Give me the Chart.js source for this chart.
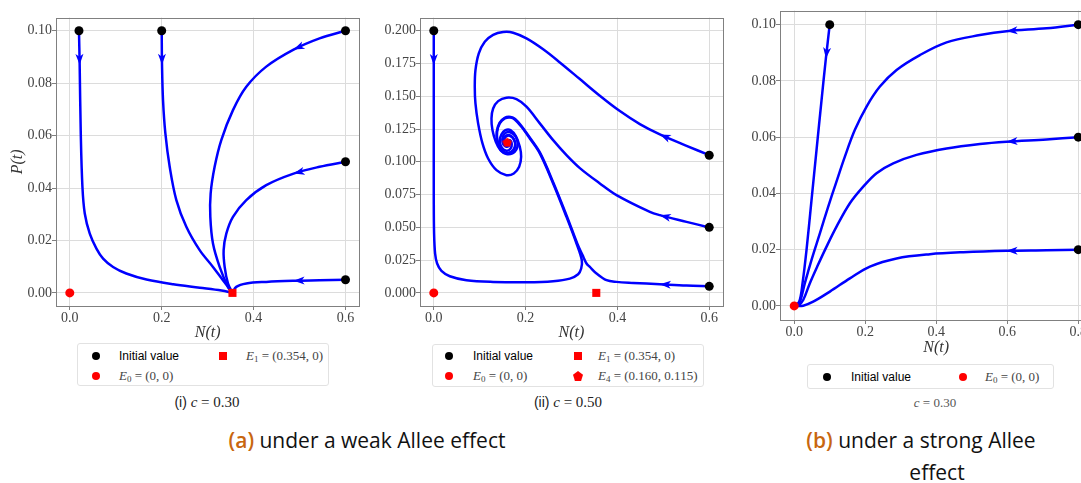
<!DOCTYPE html>
<html>
<head>
<meta charset="utf-8">
<script src="https://cdn.jsdelivr.net/npm/chart.js@4.4.1/dist/chart.umd.min.js"></script>
<style>
  html, body { margin: 0; padding: 0; background: #fff; }
  body { width: 1081px; height: 483px; overflow: hidden; position: relative; }
  canvas { position: absolute; top: 0; }
  #cI { left: 0; }
  #cII { left: 365px; }
  #cB { left: 730px; }
  .lg { position: absolute; border: 1px solid #e2e2e2; border-radius: 3px; box-sizing: border-box; background: #fff; }
  .mk { position: absolute; width: 8px; height: 8px; margin: -4px 0 0 -4px; }
  .dot { border-radius: 50%; }
  .pent { clip-path: polygon(50% 0, 100% 38%, 81% 100%, 19% 100%, 0 38%); width: 10px; height: 10px; margin: -5px 0 0 -5px; }
  .tx { position: absolute; transform: translateY(-50%); white-space: nowrap; }
  .sans { font: 12px 'Liberation Sans', Arial, sans-serif; color: #000; }
  .math { font: 13px 'Liberation Serif', serif; color: #444; }
  .math sub { font-size: 9px; vertical-align: -2px; line-height: 0; }
  .cap { position: absolute; transform: translate(-50%, -50%); white-space: nowrap; font: 15px 'Liberation Serif', serif; color: #222; }
  .cap .s { font-family: 'Liberation Sans', Arial, sans-serif; font-size: 14px; }
  .big { position: absolute; white-space: nowrap; font: 21px 'Open Sans', sans-serif; color: #111; transform: translate(-50%, -50%); }
  .big b { color: #c8660f; font-weight: 600; }
</style>
</head>
<body>
<canvas id="cI" width="365" height="345"></canvas>
<canvas id="cII" width="365" height="345"></canvas>
<canvas id="cB" width="370" height="360"></canvas>

<!-- legends -->
<div class="lg" style="left:77px; top:343px; width:252px; height:43px;">
  <div class="mk dot" style="left:18px; top:12px; background:#000;"></div>
  <div class="tx sans" style="left:41px; top:12px;">Initial value</div>
  <div class="mk" style="left:145px; top:12px; background:#f00;"></div>
  <div class="tx math" style="left:168px; top:12px;"><i>E</i><sub>1</sub> = (0.354, 0)</div>
  <div class="mk dot" style="left:18px; top:32px; background:#f00;"></div>
  <div class="tx math" style="left:41px; top:32px;"><i>E</i><sub>0</sub> = (0, 0)</div>
</div>
<div class="lg" style="left:432px; top:344px; width:272px; height:43px;">
  <div class="mk dot" style="left:16px; top:11px; background:#000;"></div>
  <div class="tx sans" style="left:40px; top:11px;">Initial value</div>
  <div class="mk" style="left:145px; top:11px; background:#f00;"></div>
  <div class="tx math" style="left:165px; top:11px;"><i>E</i><sub>1</sub> = (0.354, 0)</div>
  <div class="mk dot" style="left:16px; top:31px; background:#f00;"></div>
  <div class="tx math" style="left:40px; top:31px;"><i>E</i><sub>0</sub> = (0, 0)</div>
  <div class="mk pent" style="left:145px; top:31px; background:#f00;"></div>
  <div class="tx math" style="left:165px; top:31px;"><i>E</i><sub>4</sub> = (0.160, 0.115)</div>
</div>
<div class="lg" style="left:807px; top:364px; width:247px; height:25px;">
  <div class="mk dot" style="left:19px; top:12px; background:#000;"></div>
  <div class="tx sans" style="left:43px; top:12px;">Initial value</div>
  <div class="mk dot" style="left:155px; top:12px; background:#f00;"></div>
  <div class="tx math" style="left:177px; top:12px;"><i>E</i><sub>0</sub> = (0, 0)</div>
</div>

<!-- captions -->
<div class="cap" style="left:207px; top:402px;"><span class="s">(i)</span> <i>c</i> = 0.30</div>
<div class="cap" style="left:568px; top:402px;"><span class="s">(ii)</span> <i>c</i> = 0.50</div>
<div class="cap" style="left:935px; top:403px; font-size:13px; color:#555;"><i>c</i> = 0.30</div>
<div class="big" style="left:367px; top:440px;"><b>(a)</b> under a weak Allee effect</div>
<div class="big" style="left:921px; top:440px;"><b>(b)</b> under a strong Allee</div>
<div class="big" style="left:937px; top:472px;">effect</div>

<script>
// tick values
const xTicksI = [0, 0.2, 0.4, 0.6];
const yTicksI = [0, 0.02, 0.04, 0.06, 0.08, 0.10];
const xTicksII = [0, 0.2, 0.4, 0.6];
const yTicksII = [0, 0.025, 0.05, 0.075, 0.1, 0.125, 0.15, 0.175, 0.2];
const xTicksB = [0, 0.2, 0.4, 0.6, 0.8];
const yTicksB = [0, 0.02, 0.04, 0.06, 0.08, 0.10];

// initial values and equilibria
const initI = [[0.02, 0.1], [0.2, 0.1], [0.6, 0.1], [0.6, 0.05], [0.6, 0.005]];
const initII = [[0, 0.2], [0.6, 0.105], [0.6, 0.05], [0.6, 0.005]];
const initB = [[0.1, 0.1], [0.8, 0.1], [0.8, 0.06], [0.8, 0.02]];
const E0 = [[0, 0]];
const E1 = [[0.354, 0]];
const E4 = [[0.160, 0.115]];

// (i) weak Allee, c = 0.30  -- [N, P]
const weak30_a = [[0.02,0.1],[0.0215,0.087],[0.0239,0.0608],[0.0275,0.0405],[0.0326,0.0303],[0.0435,0.0226],[0.058,0.0169],[0.0725,0.0131],[0.0942,0.0099],[0.123,0.0074],[0.167,0.0051],[0.225,0.0033],[0.283,0.002],[0.33,0.0009],[0.354,0]];
const weak30_b = [[0.2,0.1],[0.2007,0.087],[0.2029,0.0735],[0.208,0.0608],[0.2174,0.0481],[0.2319,0.0354],[0.2536,0.0252],[0.2826,0.0163],[0.3116,0.0099],[0.3333,0.0048],[0.354,0]];
const weak30_c = [[0.6,0.1],[0.5435,0.0971],[0.487,0.0928],[0.4275,0.0863],[0.3841,0.0786],[0.3551,0.0697],[0.3297,0.0583],[0.3152,0.0481],[0.3065,0.0379],[0.3058,0.029],[0.3116,0.0188],[0.3261,0.0099],[0.3442,0.0023],[0.354,0]];
const weak30_d = [[0.6,0.05],[0.5435,0.0481],[0.487,0.0455],[0.4275,0.0411],[0.3841,0.0354],[0.3551,0.029],[0.3406,0.0226],[0.3348,0.0163],[0.337,0.0099],[0.3442,0.0036],[0.354,0]];
const weak30_e = [[0.6,0.005],[0.5435,0.0048],[0.487,0.0046],[0.4275,0.0042],[0.3841,0.0036],[0.3623,0.0023],[0.354,0]];

// (ii) weak Allee, c = 0.50
const weak50_a = [[0,0.2],[0,0.1738],[0,0.1216],[0,0.0707],[0.0007,0.0453],[0.0029,0.03],[0.0073,0.0224],[0.0167,0.0168],[0.0349,0.0127],[0.0712,0.0097],[0.1293,0.0084],[0.2019,0.0081],[0.26,0.0089],[0.2964,0.0109],[0.3145,0.0142],[0.3211,0.0186],[0.3225,0.0249],[0.3109,0.0377],[0.2891,0.058],[0.26,0.0835],[0.231,0.1064],[0.2092,0.1178],[0.191,0.1267],[0.1765,0.1323],[0.167,0.1338],[0.1547,0.1331],[0.1438,0.1293],[0.138,0.1229],[0.1387,0.1165],[0.1438,0.1109],[0.1525,0.1076],[0.1634,0.1069],[0.1729,0.1089],[0.1772,0.1127],[0.1743,0.117],[0.167,0.1196],[0.1583,0.1196],[0.1533,0.117],[0.1547,0.1135],[0.1605,0.1125],[0.1642,0.1145],[0.16,0.115]];
const weak50_b = [[0.6,0.1051],[0.5506,0.1122],[0.4925,0.1209],[0.4489,0.1288],[0.4053,0.1387],[0.3617,0.1504],[0.3182,0.1631],[0.2746,0.1758],[0.2383,0.1858],[0.2019,0.1941],[0.1729,0.1985],[0.1511,0.199],[0.1293,0.1969],[0.1111,0.1916],[0.0981,0.1827],[0.0908,0.17],[0.0893,0.1573],[0.0908,0.1445],[0.0966,0.1293],[0.1061,0.114],[0.1184,0.1025],[0.1366,0.0936],[0.1583,0.0898],[0.1743,0.0911],[0.186,0.0962],[0.1903,0.1038],[0.1874,0.1115],[0.1787,0.1196],[0.167,0.1242],[0.1561,0.1242],[0.1475,0.1209],[0.1438,0.116],[0.1482,0.1107],[0.1583,0.1084],[0.167,0.1099],[0.1699,0.1135],[0.1656,0.1165],[0.16,0.115]];
const weak50_c = [[0.6,0.0499],[0.5506,0.0542],[0.4925,0.0593],[0.4707,0.0618],[0.398,0.0746],[0.3617,0.0835],[0.3182,0.0952],[0.2891,0.1051],[0.26,0.1165],[0.231,0.1293],[0.2019,0.142],[0.1801,0.1478],[0.1583,0.1489],[0.1402,0.1463],[0.1293,0.1407],[0.1257,0.1331],[0.1278,0.1242],[0.1351,0.1153],[0.1453,0.1089],[0.1583,0.1059],[0.1714,0.1064],[0.1801,0.1094],[0.183,0.114],[0.1787,0.1191],[0.1692,0.1221],[0.1583,0.1224],[0.1511,0.1196],[0.1496,0.1153],[0.1547,0.112],[0.1634,0.112],[0.1656,0.1145],[0.16,0.115]];
const weak50_d = [[0.6,0.0051],[0.5506,0.0056],[0.4925,0.0066],[0.4344,0.0076],[0.398,0.0084],[0.3763,0.0097],[0.3545,0.0148],[0.3399,0.0198],[0.3327,0.0224],[0.324,0.0288],[0.3125,0.0377],[0.2905,0.058],[0.2612,0.0835],[0.2322,0.1064],[0.2102,0.118],[0.1918,0.127],[0.1772,0.1327],[0.1675,0.1342],[0.1545,0.1336],[0.1432,0.1297],[0.1372,0.1231],[0.1379,0.1163],[0.1432,0.1105],[0.152,0.1071],[0.1636,0.1064],[0.1735,0.1085],[0.178,0.1126],[0.1749,0.1172],[0.1672,0.12],[0.158,0.12],[0.1528,0.1171],[0.1543,0.1133],[0.1603,0.1121],[0.1645,0.1143],[0.16,0.115]];

// (b) strong Allee, c = 0.30
const strong30_a = [[0.1,0.1],[0.0892,0.088],[0.077,0.0732],[0.0629,0.0555],[0.0488,0.0377],[0.0347,0.0199],[0.0235,0.0081],[0.0141,0.0015],[0,0]];
const strong30_b = [[0.8,0.1],[0.7108,0.0987],[0.5981,0.0977],[0.523,0.0963],[0.4291,0.0937],[0.354,0.0892],[0.2883,0.0839],[0.2413,0.078],[0.2038,0.0709],[0.1709,0.0626],[0.1427,0.0531],[0.1174,0.0436],[0.0958,0.0353],[0.0723,0.0258],[0.0488,0.0164],[0.03,0.0081],[0.0178,0.0021],[0.008,0.0002],[0,0]];
const strong30_c = [[0.8,0.06],[0.7108,0.0592],[0.5981,0.0584],[0.523,0.0576],[0.4291,0.056],[0.3446,0.0537],[0.2789,0.0507],[0.2319,0.0472],[0.1944,0.0424],[0.1568,0.0365],[0.1192,0.0282],[0.0911,0.0211],[0.0648,0.014],[0.0441,0.0081],[0.0254,0.0021],[0.012,0.0002],[0,0]];
const strong30_d = [[0.8,0.02],[0.7108,0.0198],[0.5981,0.0196],[0.4761,0.0191],[0.3822,0.0184],[0.2883,0.0169],[0.2131,0.014],[0.1568,0.0098],[0.1005,0.0051],[0.0535,0.0015],[0.0254,0.0001],[0,0]];

const BLUE = '#0000ff';
const serif = "'Liberation Serif', 'DejaVu Serif', serif";

const toXY = pts => pts.map(p => ({x: p[0], y: p[1]}));

function traj(pts, arrowAt) {
    return {
        data: toXY(pts),
        showLine: true,
        borderColor: BLUE,
        borderWidth: 2.5,
        pointRadius: 0,
        tension: 0.35,
        fill: false,
        arrowAt: arrowAt,
        order: 2
    };
}

function marks(pts, color, style, r) {
    return {
        data: toXY(pts),
        showLine: false,
        pointStyle: style,
        pointRadius: r,
        pointHoverRadius: r,
        backgroundColor: color,
        borderColor: color,
        borderWidth: 0,
        clip: false,
        order: 0
    };
}

// pentagon marker for E4
function pentagon(size, color) {
    const c = document.createElement('canvas');
    c.width = c.height = size;
    const g = c.getContext('2d');
    g.fillStyle = color;
    g.beginPath();
    for (let k = 0; k < 5; k++) {
        const a = -Math.PI / 2 + k * 2 * Math.PI / 5;
        const px = size / 2 + (size / 2) * Math.cos(a);
        const py = size / 2 + 0.5 + (size / 2) * Math.sin(a);
        if (k === 0) g.moveTo(px, py); else g.lineTo(px, py);
    }
    g.closePath();
    g.fill();
    return c;
}

// arrowheads along the trajectories
const arrowPlugin = {
    id: 'arrows',
    afterDatasetsDraw(chart) {
        const ctx = chart.ctx;
        chart.data.datasets.forEach((ds, i) => {
            if (ds.arrowAt == null) return;
            const pts = chart.getDatasetMeta(i).data;
            const a = pts[ds.arrowAt - 1], b = pts[ds.arrowAt];
            const ang = Math.atan2(b.y - a.y, b.x - a.x);
            ctx.save();
            ctx.translate(b.x, b.y);
            ctx.rotate(ang);
            ctx.beginPath();
            ctx.moveTo(0, 0);
            ctx.lineTo(-11, -4);
            ctx.lineTo(-8, 0);
            ctx.lineTo(-11, 4);
            ctx.closePath();
            ctx.fillStyle = ds.borderColor;
            ctx.fill();
            ctx.restore();
        });
    }
};

// box round the plot area
const framePlugin = {
    id: 'frame',
    beforeDatasetsDraw(chart) {
        const {ctx, chartArea: a} = chart;
        ctx.save();
        ctx.strokeStyle = '#808080';
        ctx.lineWidth = 1;
        const l = Math.round(a.left) + 0.5, t = Math.round(a.top) + 0.5;
        ctx.strokeRect(l, t, Math.round(a.right) - Math.round(a.left), Math.round(a.bottom) - Math.round(a.top));
        ctx.restore();
    }
};

function axes(o) {
    const grid = {color: '#dcdcdc', tickColor: '#808080', tickLength: 4, lineWidth: 1};
    const tickFont = {family: serif, size: 14};
    const titleFont = {family: serif, size: 16, style: 'italic'};
    return {
        x: {
            type: 'linear', min: o.xMin, max: o.xMax,
            grid: grid, border: {display: false},
            afterBuildTicks: s => { s.ticks = o.xTicks.map(v => ({value: v})); },
            afterFit: s => { s.height = o.xH; s.paddingLeft = 0; s.paddingRight = 0; },
            ticks: {font: tickFont, color: '#444', padding: 0, autoSkip: false, maxRotation: 0,
                    callback: v => v.toFixed(o.xDec)},
            title: {display: true, text: 'N(t)', font: titleFont, color: '#333', padding: {top: 0, bottom: o.xTitlePad}}
        },
        y: {
            type: 'linear', min: o.yMin, max: o.yMax,
            grid: grid, border: {display: false},
            afterBuildTicks: s => { s.ticks = o.yTicks.map(v => ({value: v})); },
            afterFit: s => { s.width = o.yW; },
            ticks: {font: tickFont, color: '#444', padding: 0, autoSkip: false,
                    callback: v => v.toFixed(o.yDec)},
            title: {display: !!o.yTitle, text: o.yTitle || '', font: titleFont, color: '#333', padding: {top: 8, bottom: 0}}
        }
    };
}

function makeChart(id, datasets, scales, pad) {
    return new Chart(document.getElementById(id), {
        type: 'scatter',
        data: {datasets: datasets},
        options: {
            responsive: false,
            animation: false,
            devicePixelRatio: 1,
            layout: {padding: pad},
            plugins: {legend: {display: false}, tooltip: {enabled: false}},
            scales: scales
        },
        plugins: [framePlugin, arrowPlugin]
    });
}

makeChart('cI', [
    marks(initI, '#000', 'circle', 4.5),
    marks(E0, '#f00', 'circle', 4.5),
    marks(E1, '#f00', 'rect', 5.7),
    traj(weak30_a, 1), traj(weak30_b, 1), traj(weak30_c, 2), traj(weak30_d, 2), traj(weak30_e, 2)
], axes({xMin: -0.03, xMax: 0.63, xTicks: xTicksI, xDec: 1, xH: 39, xTitlePad: 3,
         yMin: -0.005, yMax: 0.105, yTicks: yTicksI, yDec: 2, yW: 56, yTitle: 'P(t)'}),
   {left: 0, top: 17.6, right: 5, bottom: 0});

makeChart('cII', [
    marks(initII, '#000', 'circle', 4.5),
    marks(E0, '#f00', 'circle', 4.5),
    marks(E1, '#f00', 'rect', 5.7),
    marks(E4, '#f00', pentagon(10, '#f00'), 5),
    traj(weak50_a, 1), traj(weak50_b, 2), traj(weak50_c, 2), traj(weak50_d, 2)
], axes({xMin: -0.03, xMax: 0.63, xTicks: xTicksII, xDec: 1, xH: 39, xTitlePad: 3,
         yMin: -0.01, yMax: 0.21, yTicks: yTicksII, yDec: 3, yW: 55}),
   {left: 0, top: 17.6, right: 7, bottom: 0});

makeChart('cB', [
    marks(initB, '#000', 'circle', 4.5),
    marks(E0, '#f00', 'circle', 4.5),
    traj(strong30_a, 1), traj(strong30_b, 2), traj(strong30_c, 2), traj(strong30_d, 2)
], axes({xMin: -0.04, xMax: 0.84, xTicks: xTicksB, xDec: 1, xH: 40, xTitlePad: 3,
         yMin: -0.005, yMax: 0.105, yTicks: yTicksB, yDec: 2, yW: 50}),
   {left: 0, top: 10.6, right: 7.5, bottom: 0});
</script>
</body>
</html>
